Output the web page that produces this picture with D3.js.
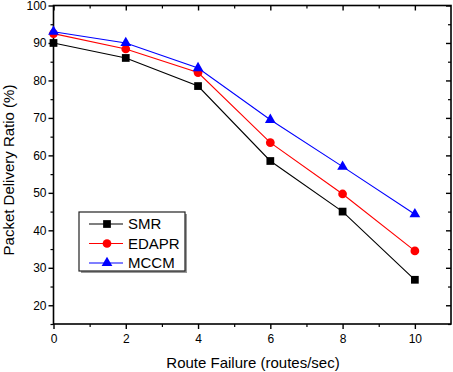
<!DOCTYPE html>
<html>
<head>
<meta charset="utf-8">
<script src="https://cdnjs.cloudflare.com/ajax/libs/d3/7.8.5/d3.min.js"></script>
<style>
  body { margin: 0; background: #fff; }
  svg text { font-family: Arial, "Liberation Sans", sans-serif; fill: #000; }
</style>
</head>
<body>
<div id="chart"></div>
<script>
// data
var failures = [0, 2, 4, 6, 8, 10];
var smr   = [90, 86, 78.5, 58.5, 45, 26.8];
var edapr = [92.5, 88.4, 82.1, 63.4, 49.7, 34.5];
var mccm  = [93, 90, 83.3, 69.5, 57, 44.3];
var seriesNames = ["SMR", "EDAPR", "MCCM"];
var xTicks = [0, 2, 4, 6, 8, 10];
var yTicks = [20, 30, 40, 50, 60, 70, 80, 90, 100];

var W = 453, H = 372;
var plotLeft = 53.5, plotRight = 451, plotTop = 5.5, plotBottom = 324;

var svg = d3.select("#chart").append("svg")
    .attr("width", W)
    .attr("height", H);

var x = d3.scaleLinear().domain([0, 11]).range([plotLeft, plotRight]);
var y = d3.scaleLinear().domain([15, 100]).range([plotBottom, plotTop]);

// frame
svg.append("rect")
    .attr("x", plotLeft).attr("y", plotTop)
    .attr("width", plotRight - plotLeft).attr("height", plotBottom - plotTop)
    .attr("fill", "none")
    .attr("stroke", "#000")
    .attr("stroke-width", 1.6);

var xMinor = d3.range(1, 11, 2);
var yMinor = d3.range(15, 100, 10);

function tidy(w) {
    return function(g) {
        g.select(".domain").remove();
        g.selectAll("line").attr("stroke-width", w);
    };
}

// bottom axis (ticks outward)
var gx = svg.append("g").attr("transform", "translate(0," + plotBottom + ")")
    .call(d3.axisBottom(x).tickValues(xTicks).tickSize(5).tickPadding(4))
    .call(tidy(1.4));
gx.selectAll("text").style("font-size", "12px").attr("dy", "0.85em");
svg.append("g").attr("transform", "translate(0," + plotBottom + ")")
    .call(d3.axisBottom(x).tickValues(xMinor).tickSize(3).tickFormat(""))
    .call(tidy(1.2));

// left axis (ticks outward)
var gy = svg.append("g").attr("transform", "translate(" + plotLeft + ",0)")
    .call(d3.axisLeft(y).tickValues(yTicks).tickSize(5).tickPadding(2))
    .call(tidy(1.4));
gy.selectAll("text").style("font-size", "12px");
svg.append("g").attr("transform", "translate(" + plotLeft + ",0)")
    .call(d3.axisLeft(y).tickValues(yMinor).tickSize(3).tickFormat(""))
    .call(tidy(1.2));

// top axis (ticks inward)
svg.append("g").attr("transform", "translate(0," + plotTop + ")")
    .call(d3.axisBottom(x).tickValues(xTicks).tickSize(5).tickFormat(""))
    .call(tidy(1.4));
svg.append("g").attr("transform", "translate(0," + plotTop + ")")
    .call(d3.axisBottom(x).tickValues(xMinor).tickSize(3).tickFormat(""))
    .call(tidy(1.2));

// right axis (ticks inward)
svg.append("g").attr("transform", "translate(" + plotRight + ",0)")
    .call(d3.axisLeft(y).tickValues(yTicks).tickSize(5).tickFormat(""))
    .call(tidy(1.4));
svg.append("g").attr("transform", "translate(" + plotRight + ",0)")
    .call(d3.axisLeft(y).tickValues(yMinor).tickSize(3).tickFormat(""))
    .call(tidy(1.2));

// axis titles
svg.append("text")
    .attr("x", 253)
    .attr("y", 368)
    .style("text-anchor", "middle")
    .style("font-size", "15px")
    .text("Route Failure (routes/sec)");

svg.append("text")
    .attr("transform", "translate(14,170) rotate(-90)")
    .style("text-anchor", "middle")
    .style("font-size", "15px")
    .text("Packet Delivery Ratio (%)");

// series
var series = [
    {name: seriesNames[0], values: smr, color: "#000000", shape: d3.symbolSquare, size: 60},
    {name: seriesNames[1], values: edapr, color: "#ff0000", shape: d3.symbolCircle, size: 60},
    {name: seriesNames[2], values: mccm, color: "#0000ff", shape: d3.symbolTriangle, size: 50}
];

var line = d3.line()
    .x(function(d) { return x(d.x); })
    .y(function(d) { return y(d.y); });

series.forEach(function(s) {
    var pts = failures.map(function(f, i) { return {x: f, y: s.values[i]}; });
    svg.append("path")
        .datum(pts)
        .attr("fill", "none")
        .attr("stroke", s.color)
        .attr("stroke-width", 1.1)
        .attr("d", line);
    svg.selectAll(null)
        .data(pts)
        .enter().append("path")
        .attr("transform", function(d) { return "translate(" + x(d.x) + "," + y(d.y) + ")"; })
        .attr("d", d3.symbol().type(s.shape).size(s.size))
        .attr("fill", s.color);
});

// legend
var lg = {x: 79, y: 212, w: 106, h: 59};
svg.append("rect")
    .attr("x", lg.x + 2).attr("y", lg.y + 2)
    .attr("width", lg.w).attr("height", lg.h)
    .attr("fill", "#999");
svg.append("rect")
    .attr("x", lg.x).attr("y", lg.y)
    .attr("width", lg.w).attr("height", lg.h)
    .attr("fill", "#fff")
    .attr("stroke", "#222")
    .attr("stroke-width", 1.2);

series.forEach(function(s, i) {
    var ly = lg.y + 12 + i * 19.5;
    svg.append("line")
        .attr("x1", lg.x + 10).attr("x2", lg.x + 44)
        .attr("y1", ly).attr("y2", ly)
        .attr("stroke", s.color)
        .attr("stroke-width", 1.1);
    svg.append("path")
        .attr("transform", "translate(" + (lg.x + 28) + "," + ly + ")")
        .attr("d", d3.symbol().type(s.shape).size(s.size))
        .attr("fill", s.color);
    svg.append("text")
        .attr("x", lg.x + 49)
        .attr("y", ly)
        .attr("dy", "0.36em")
        .style("font-size", "15px")
        .text(s.name);
});
</script>
</body>
</html>
